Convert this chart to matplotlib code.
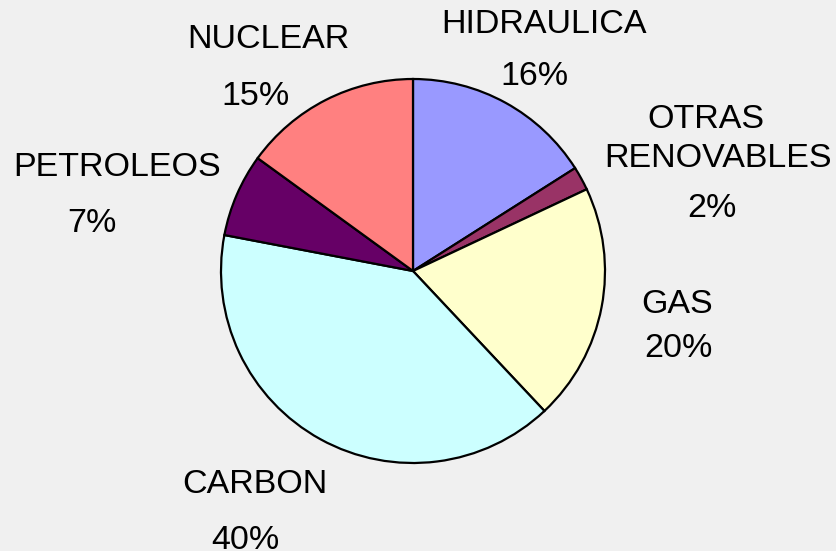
import matplotlib
matplotlib.use("Agg")
import matplotlib.pyplot as plt

# energy mix shares, clockwise from twelve o'clock
sources = ['HIDRAULICA', 'OTRAS RENOVABLES', 'GAS', 'CARBON', 'PETROLEOS', 'NUCLEAR']
shares = [16, 2, 20, 40, 7, 15]
colors = ['#9999FF', '#993366', '#FFFFCC', '#CCFFFF', '#660066', '#FF8080']

# label anchors in pixels from the top-left: one (x centre, baseline) per
# line of the name, then one for the percentage
name_pos = [
    [(544, 33)],
    [(706, 128), (718, 167)],
    [(677, 313)],
    [(255, 493)],
    [(117, 176)],
    [(268, 48)],
]
pct_pos = [(534, 85), (712, 217), (678, 357), (245, 549), (92, 232), (255, 105)]

W, H = 836, 551
fig = plt.figure(figsize=(W / 100, H / 100), dpi=100)
fig.patch.set_facecolor('#F0F0F0')
ax = fig.add_axes([0, 0, 1, 1])
ax.set_facecolor('#F0F0F0')

ax.pie(shares, colors=colors, startangle=90, counterclock=False,
       center=(413, H - 271), radius=192,
       wedgeprops=dict(edgecolor='black', linewidth=1.6))

ax.set_xlim(0, W)
ax.set_ylim(0, H)
ax.set_aspect('equal')
ax.axis('off')

font = dict(family='Liberation Sans', fontsize=24.5, color='black',
            ha='center', va='baseline')
for name, share, anchors, (px, py) in zip(sources, shares, name_pos, pct_pos):
    words = name.split(' ') if len(anchors) > 1 else [name]
    for word, (nx, ny) in zip(words, anchors):
        ax.text(nx, H - ny, word, **font)
    ax.text(px, H - py, f'{share}%', **font)

fig.savefig('out.png', dpi=100, facecolor=fig.get_facecolor())
